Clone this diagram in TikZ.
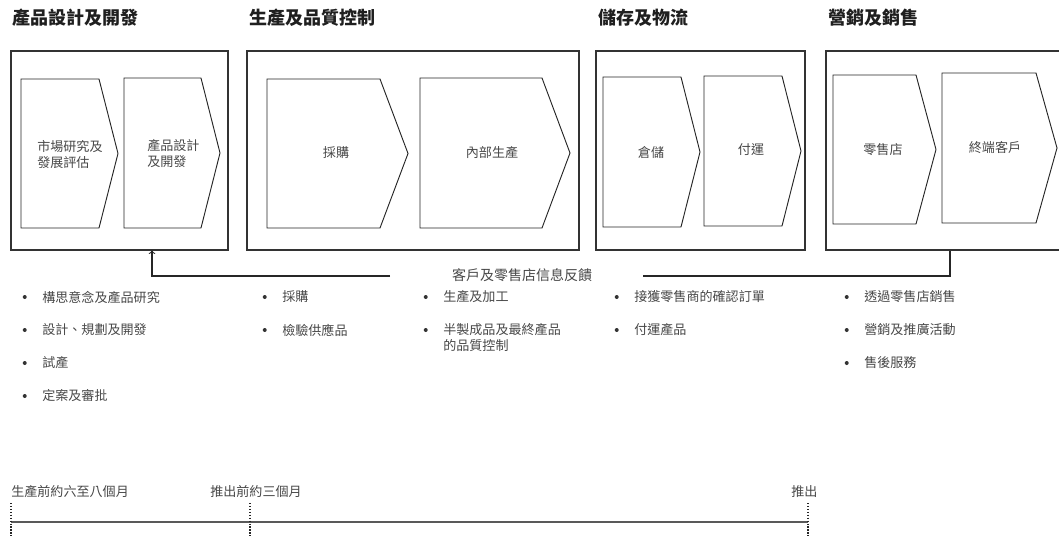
\documentclass[tikz,border=0pt]{standalone}
\usepackage{fontspec}
\setmainfont{Noto Sans CJK TC}
\usetikzlibrary{positioning}

\tikzset{
	hd/.style={anchor=west,inner sep=0pt,font=\fontsize{13.5}{16}\selectfont\bfseries,text=black!88},
	txt/.style={inner sep=0pt,font=\fontsize{9.8}{12}\selectfont,text=black!72},
	frame/.style={draw=black!80,line width=0.8pt,minimum height=149.25pt,inner sep=0pt},
	chev/.style={draw=black!85,line width=0.7pt},
	bul/.style={circle,fill=black!80,inner sep=0pt,minimum size=3pt,label distance=11.25pt},
	item/.style={txt,anchor=west,align=left,label={[bul]left:{}}},
	tick/.style={draw=black!85,line width=0.8pt,dash pattern=on 0.9pt off 1.3pt},
}

\begin{document}
\begin{tikzpicture}[x=0.75pt,y=0.75pt,yscale=-1,xscale=1]
	\useasboundingbox (0,0) rectangle (1059,538);
	\node [hd] (hpd) at (12,18) {產品設計及開發};
	\node [hd] (hqc) at (249,18) {生產及品質控制};
	\node [hd] (hlg) at (598,18) {儲存及物流};
	\node [hd] (hsl) at (828,18) {營銷及銷售};
	\node [frame,minimum width=162.75pt] (box1) at (119.5,150.5) {};
	\node [frame,minimum width=249pt] (box2) at (413,150.5) {};
	\node [frame,minimum width=156.75pt] (box3) at (700.5,150.5) {};
	\node [frame,minimum width=190.5pt] (box4) at (953,150.5) {};
	\draw [chev] (21,79) -- (99,79) -- (118,153.5) -- (99,228) -- (21,228) -- cycle ;
	\draw [chev] (124,78) -- (201,78) -- (220,153) -- (201,228) -- (124,228) -- cycle ;
	\draw [chev] (267,79) -- (380,79) -- (408,153.5) -- (380,228) -- (267,228) -- cycle ;
	\draw [chev] (420,78) -- (542,78) -- (570,153) -- (542,228) -- (420,228) -- cycle ;
	\draw [chev] (603,77) -- (681,77) -- (700,152) -- (681,227) -- (603,227) -- cycle ;
	\draw [chev] (704,76) -- (782,76) -- (801,151) -- (782,226) -- (704,226) -- cycle ;
	\draw [chev] (833,75) -- (916,75) -- (936,149.5) -- (916,224) -- (833,224) -- cycle ;
	\draw [chev] (942,73) -- (1036,73) -- (1057,148) -- (1036,223) -- (942,223) -- cycle ;
	\node [txt,anchor=west,align=left] (mkt) at (37,154) {市場研究及\\發展評估};
	\node [txt,anchor=west,align=left] (dsg) at (147,154) {產品設計\\及開發};
	\node [txt] (buy) at (336,153) {採購};
	\node [txt] (mfg) at (492,153) {內部生產};
	\node [txt] (wh) at (651,152) {倉儲};
	\node [txt] (shp) at (751,150) {付運};
	\node [txt] (rtl) at (883,150) {零售店};
	\node [txt] (cus) at (995,148) {終端客戶};
	\node [txt,font=\fontsize{10.5}{12}\selectfont] (fb) at (522,275) {客戶及零售店信息反饋};
	\coordinate (fbx) at (950,0);
	\coordinate (fbr) at (643,276);
	\coordinate (fbl) at (390,276);
	\coordinate (fba) at (152,0);
	\draw [draw=black!85,line width=0.8pt] (box4.south -| fbx) |- (fbr) ;
	\draw [draw=black!85,line width=0.8pt,->] (fbl) -| (box1.south -| fba) ;
	\node [item] (i11) at (42,297) {構思意念及產品研究};
	\node [item] (i12) at (42,330) {設計、規劃及開發};
	\node [item] (i13) at (42,363) {試產};
	\node [item] (i14) at (42,396) {定案及審批};
	\node [item] (i21) at (282,297) {採購};
	\node [item] (i22) at (282,330) {檢驗供應品};
	\node [item] (i31) at (443,297) {生產及加工};
	\node [txt,anchor=west,align=left,label={[bul,yshift=6pt]left:{}}] (i32) at (443,338) {半製成品及最終產品\\的品質控制};
	\node [item] (i41) at (634,297) {接獲零售商的確認訂單};
	\node [item] (i42) at (634,330) {付運產品};
	\node [item] (i51) at (864,297) {透過零售店銷售};
	\node [item] (i52) at (864,330) {營銷及推廣活動};
	\node [item] (i53) at (864,363) {售後服務};
	\node [txt,anchor=west] (t0lbl) at (11,492) {生產前約六至八個月};
	\node [txt,anchor=west] (t1lbl) at (210,492) {推出前約三個月};
	\node [txt,anchor=west] (t2lbl) at (791,492) {推出};
	\coordinate (t0) at (11,522);
	\coordinate (t1) at (250,522);
	\coordinate (t2) at (808,522);
	\draw [draw=black!65,line width=1.3pt] (t0) -- (t2) ;
	\draw [tick] (t0) ++(0,-19) -- ++(0,35) ;
	\draw [tick] (t1) ++(0,-19) -- ++(0,35) ;
	\draw [tick] (t2) ++(0,-19) -- ++(0,35) ;
\end{tikzpicture}
\end{document}
